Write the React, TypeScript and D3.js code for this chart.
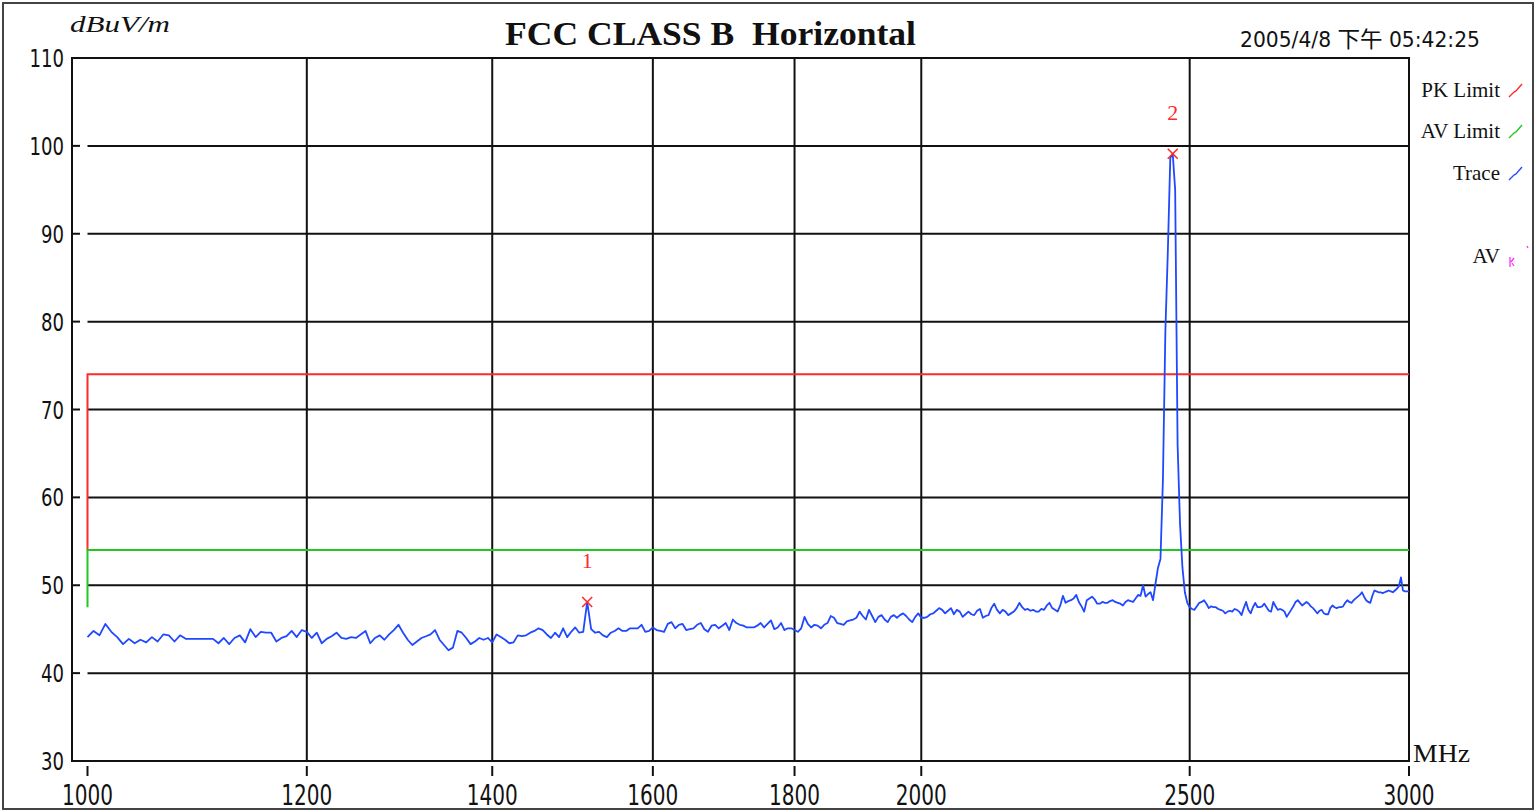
import React from 'react';
import * as d3 from 'd3';

// axis ticks
const xTicks = [1000, 1200, 1400, 1600, 1800, 2000, 2500, 3000];
const yTicks = [30, 40, 50, 60, 70, 80, 90, 100, 110];

// trace: one reading every 5 MHz from 1000 to 3000 MHz (dBuV/m)
const traceStartMHz = 1000;
const traceStepMHz = 5;
const traceLevels = [
  44.1, 44.8, 44.3, 45.6, 44.7, 44.1, 43.3, 43.9, 43.4, 43.8,
  43.5, 44.1, 43.6, 44.4, 44.3, 43.6, 44.3, 43.9, 43.9, 43.9,
  43.9, 43.9, 43.9, 43.4, 44.0, 43.3, 44.0, 44.3, 43.5, 45.0,
  44.1, 44.7, 44.6, 44.6, 43.6, 44.0, 44.2, 44.8, 44.1, 44.9,
  44.7, 44.0, 44.6, 43.4, 43.9, 44.2, 44.6, 44.0, 43.9, 44.1,
  44.0, 44.4, 44.8, 43.4, 44.0, 44.3, 43.8, 44.4, 44.9, 45.5,
  44.6, 43.8, 43.2, 43.6, 44.0, 44.2, 44.4, 44.9, 43.8, 43.2,
  42.6, 42.9, 44.8, 44.6, 44.0, 43.3, 43.6, 44.0, 43.8, 44.0,
  43.5, 44.4, 44.1, 43.8, 43.4, 43.5, 44.3, 44.2, 44.3, 44.6,
  44.8, 45.1, 44.9, 44.4, 44.0, 44.6, 44.1, 45.1, 44.1, 44.7,
  45.2, 44.6, 44.7, 48.1, 45.0, 44.6, 44.7, 44.3, 44.1, 44.6,
  44.8, 45.1, 44.8, 44.8, 45.1, 45.1, 45.1, 45.5, 44.7, 44.8,
  45.2, 44.9, 44.8, 44.7, 45.6, 45.8, 45.1, 45.5, 45.6, 44.9,
  45.0, 45.1, 45.5, 45.7, 45.0, 44.7, 45.4, 45.5, 45.1, 45.4,
  45.7, 44.9, 46.1, 45.7, 45.5, 45.4, 45.2, 45.2, 45.2, 45.4,
  45.7, 45.2, 45.6, 46.0, 45.0, 45.2, 45.7, 44.9, 45.1, 45.1,
  44.9, 44.7, 45.1, 46.4, 45.6, 45.2, 45.5, 45.4, 45.1, 45.5,
  45.7, 46.5, 46.3, 45.7, 45.6, 45.5, 45.9, 46.0, 46.1, 46.3,
  47.0, 46.5, 46.1, 47.2, 46.5, 45.8, 46.4, 46.6, 46.1, 45.8,
  46.4, 46.6, 46.3, 46.6, 46.8, 46.5, 46.1, 45.8, 46.4, 46.8,
  46.3, 46.3, 46.4, 46.7, 46.8, 47.1, 47.4, 47.2, 46.8, 47.1,
  47.4, 46.7, 47.2, 47.0, 46.4, 46.7, 47.0, 46.7, 46.6, 47.1,
  47.3, 46.3, 46.5, 46.6, 47.4, 47.9, 47.2, 46.8, 47.2, 47.0,
  46.6, 46.8, 47.0, 47.4, 48.0, 47.5, 47.2, 47.3, 47.1, 47.2,
  47.0, 47.0, 47.3, 47.2, 47.7, 48.0, 47.4, 47.2, 47.0, 47.7,
  48.8, 48.0, 48.2, 48.3, 48.5, 48.9, 48.1, 47.6, 47.0, 48.3,
  48.5, 48.7, 48.4, 47.9, 47.9, 48.1, 48.0, 48.0, 48.2, 48.3,
  48.1, 48.0, 47.9, 47.7, 48.1, 48.3, 48.2, 48.1, 48.5, 48.9,
  48.8, 50.0, 48.7, 49.0, 49.2, 48.3, 50.2, 52.0, 53.0, 62.0,
  79.0, 88.0, 98.6, 99.1, 95.0, 66.0, 57.0, 52.0, 49.2, 48.0,
  47.5, 47.3, 47.2, 47.6, 48.0, 48.1, 48.3, 47.9, 47.4, 47.6,
  47.5, 47.5, 47.3, 47.2, 47.1, 46.8, 47.0, 47.1, 47.0, 47.3,
  47.2, 47.0, 46.6, 47.4, 48.1, 47.2, 46.8, 47.5, 48.0, 47.5,
  47.5, 47.6, 47.9, 47.5, 47.1, 47.0, 48.1, 47.6, 47.2, 47.3,
  47.2, 47.0, 46.4, 46.8, 47.2, 47.6, 48.1, 48.3, 48.0, 47.7,
  47.9, 48.1, 47.9, 47.6, 47.4, 47.1, 46.8, 47.1, 47.2, 46.8,
  46.7, 46.7, 47.4, 47.7, 47.5, 47.4, 47.5, 47.5, 47.6, 48.0,
  48.3, 48.1, 48.0, 48.3, 48.5, 48.7, 48.9, 49.2, 48.7, 48.3,
  48.1, 48.0, 48.8, 49.4, 49.3, 49.2, 49.2, 49.1, 49.2, 49.3,
  49.4, 49.3, 49.2, 49.4, 49.6, 49.9, 50.9, 49.4, 49.3, 49.3,
  49.3,
];

// limit lines [MHz, dBuV/m]
const pkLimit: [number, number][] = [[1000, 54], [1000, 74], [3000, 74]];
const avLimit: [number, number][] = [[1000, 47.5], [1000, 54], [3000, 54]];

// peak markers
const markers = [
  { id: '1', freq: 1515, level: 48.1 },
  { id: '2', freq: 2465, level: 99.1 },
];

const legendItems = [
  { label: 'PK Limit', color: '#ff2a2a' },
  { label: 'AV Limit', color: '#22c822' },
  { label: 'Trace', color: '#2050ff' },
];

const W = 1537;
const H = 812;
const frameLeft = 72;
const plotRight = 1409;
const plotTop = 58;
const plotBottom = 761;

const narrow = '"Liberation Sans Narrow", "DejaVu Sans Condensed", "Noto Sans CJK TC", sans-serif';
const serif = '"Liberation Serif", "DejaVu Serif", serif';

export default function App() {
  const x = d3.scaleLog().domain([1000, 3000]).range([87.5, plotRight]);
  const y = d3.scaleLinear().domain([30, 110]).range([plotBottom, plotTop]);

  const traceData = traceLevels.map((v, i) => [traceStartMHz + i * traceStepMHz, v] as [number, number]);
  const line = d3.line<[number, number]>().x(d => x(d[0])).y(d => y(d[1]));

  return (
    <svg width={W} height={H} style={{ position: 'absolute', left: 0, top: 0, background: '#fff' }}>
      <rect x={0} y={0} width={W} height={H} fill="#fff" />
      <rect x={3} y={3} width={1530} height={806} fill="none" stroke="#444" strokeWidth={2} />

      {/* horizontal grid + y ticks */}
      {yTicks.map(t => (
        <g key={'y' + t}>
          {t > 30 && t < 110 && (
            <line x1={x(1000)} x2={plotRight} y1={y(t)} y2={y(t)} stroke="#111" strokeWidth={2} />
          )}
          <line x1={frameLeft} x2={80} y1={y(t)} y2={y(t)} stroke="#111" strokeWidth={2} />
          <text x={64} y={y(t) + 9} textAnchor="end" fontFamily={narrow} fontSize={25} fill="#111"
            textLength={String(t).length * 11.5} lengthAdjust="spacingAndGlyphs">
            {t}
          </text>
        </g>
      ))}

      {/* vertical grid + x ticks */}
      {xTicks.map(t => (
        <g key={'x' + t}>
          {t > 1000 && t < 3000 && (
            <line x1={x(t)} x2={x(t)} y1={plotTop} y2={plotBottom} stroke="#111" strokeWidth={2} />
          )}
          <line x1={x(t)} x2={x(t)} y1={766} y2={776} stroke="#111" strokeWidth={2} />
          <text x={x(t)} y={805} textAnchor="middle" fontFamily={narrow} fontSize={28} fill="#111"
            textLength={51} lengthAdjust="spacingAndGlyphs">
            {t}
          </text>
        </g>
      ))}

      {/* plot frame */}
      <rect x={frameLeft} y={plotTop} width={plotRight - frameLeft} height={plotBottom - plotTop}
        fill="none" stroke="#111" strokeWidth={2} />

      {/* limits */}
      <path d={line(pkLimit) || ''} fill="none" stroke="#ff2a2a" strokeWidth={2} />
      <path d={line(avLimit) || ''} fill="none" stroke="#22c822" strokeWidth={2} />

      {/* trace */}
      <path d={line(traceData) || ''} fill="none" stroke="#1f48ff" strokeWidth={1.8} strokeLinejoin="round" />

      {/* markers */}
      {markers.map(m => {
        const cx = x(m.freq);
        const cy = y(m.level);
        return (
          <g key={m.id} stroke="#ff2a2a" strokeWidth={1.6}>
            <line x1={cx - 5} x2={cx + 5} y1={cy - 5} y2={cy + 5} />
            <line x1={cx - 5} x2={cx + 5} y1={cy + 5} y2={cy - 5} />
            <text x={cx} y={cy - 34} textAnchor="middle" fontFamily={serif} fontSize={22}
              fill="#ff2a2a" stroke="none">
              {m.id}
            </text>
          </g>
        );
      })}

      {/* titles */}
      <text x={70} y={32} fontFamily={serif} fontStyle="italic" fontSize={23} textLength={100}
        lengthAdjust="spacingAndGlyphs" fill="#111">dBuV/m</text>
      <text x={505} y={45} fontFamily={serif} fontWeight="bold" fontSize={34} textLength={411}
        lengthAdjust="spacingAndGlyphs" fill="#111">{'FCC CLASS B\u00a0\u00a0Horizontal'}</text>
      <text x={1240} y={47} fontFamily={narrow} fontSize={22} textLength={240}
        lengthAdjust="spacingAndGlyphs" fill="#111">2005/4/8 下午 05:42:25</text>
      <text x={1413} y={762} fontFamily={serif} fontSize={26} textLength={57}
        lengthAdjust="spacingAndGlyphs" fill="#111">MHz</text>

      {/* legend */}
      {legendItems.map((it, i) => {
        const by = [97, 138, 180][i];
        return (
          <g key={it.label}>
            <text x={1500} y={by} textAnchor="end" fontFamily={serif} fontSize={21} fill="#111">
              {it.label}
            </text>
            <path d={`M1509,${by} L1514,${by - 5} L1516,${by - 6} L1522,${by - 13}`} fill="none"
              stroke={it.color} strokeWidth={1.4} />
          </g>
        );
      })}
      <text x={1500} y={263} textAnchor="end" fontFamily={serif} fontSize={21} fill="#111">AV</text>
      <path d="M1510,257 L1510,267 M1511,262 L1514,258 M1512,263 L1514,266 M1527,246 L1528,248"
        fill="none" stroke="#ff30ff" strokeWidth={1.3} />
    </svg>
  );
}
